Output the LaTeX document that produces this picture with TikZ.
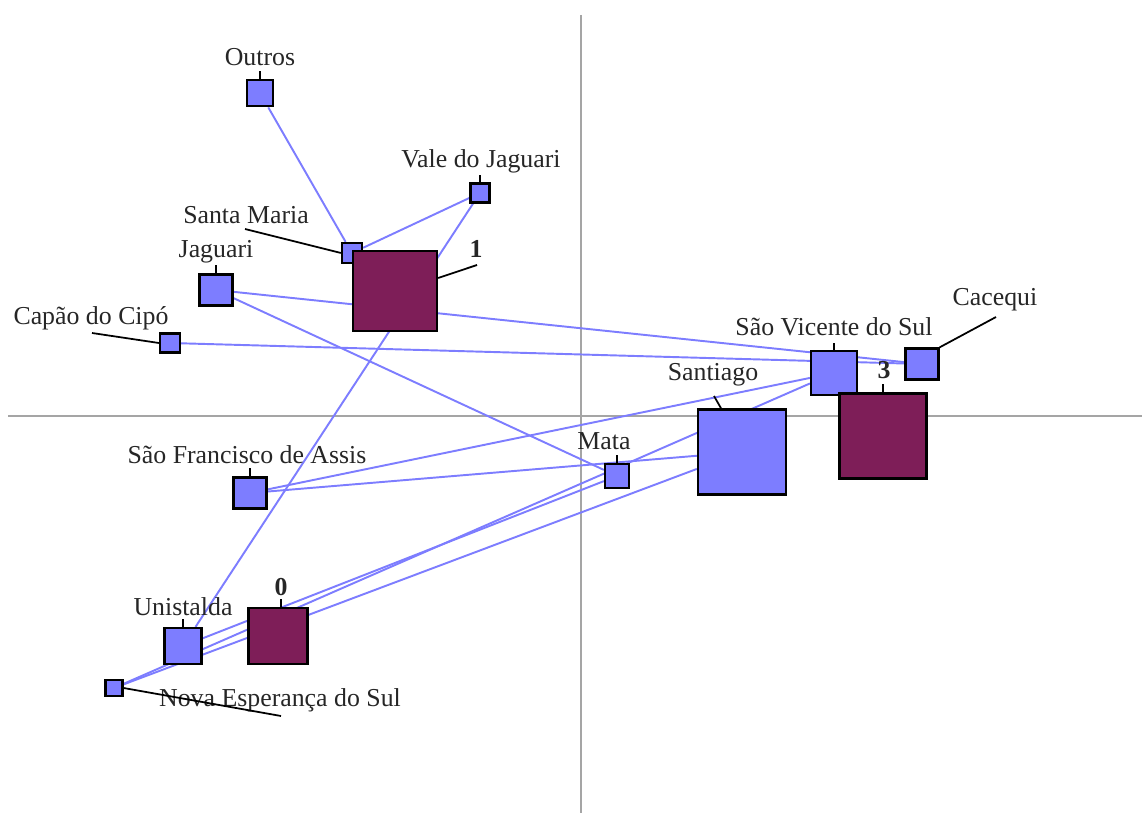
\documentclass[tikz,border=0pt]{standalone}
\usepackage{fontspec}
\setmainfont{Liberation Serif}
\usetikzlibrary{backgrounds}

\definecolor{ptazul}{RGB}{125,125,255}
\definecolor{ptvinho}{RGB}{126,30,88}
\definecolor{eixo}{RGB}{165,165,165}

\begin{document}
\begin{tikzpicture}[x=0.02cm, y=-0.02cm,
    catbox/.style={draw=black, line width=1.3pt, fill=ptazul, inner sep=0pt},
    nivelbox/.style={draw=black, line width=1.3pt, fill=ptvinho, inner sep=0pt},
    rotulo/.style={font=\fontsize{14.7}{16}\selectfont, text=black!85, inner sep=0pt},
    lig/.style={ptazul, line width=1.1pt},
    guia/.style={black, line width=1pt}]

    \useasboundingbox (0,0) rectangle (1142,813);

    % === 類別方塊 ===
    \node[catbox, minimum size=0.53cm] (outros) at (260,93) {};
    \node[catbox, minimum size=0.38cm] (vale) at (480,193) {};
    \node[catbox, minimum size=0.40cm] (santamaria) at (352,253) {};
    \node[nivelbox, minimum width=1.68cm, minimum height=1.60cm] (um) at (395,291) {};
    \node[catbox, minimum width=0.66cm, minimum height=0.62cm] (jaguari) at (216,290) {};
    \node[catbox, minimum width=0.40cm, minimum height=0.38cm] (capao) at (170,343) {};
    \node[catbox, minimum width=0.92cm, minimum height=0.88cm] (svicente) at (834,373) {};
    \node[catbox, minimum width=0.66cm, minimum height=0.62cm] (cacequi) at (922,364) {};
    \node[nivelbox, minimum width=1.74cm, minimum height=1.70cm] (tres) at (883,436) {};
    \node[catbox, minimum width=1.76cm, minimum height=1.70cm] (santiago) at (742,452) {};
    \node[catbox, minimum size=0.48cm] (mata) at (617,476) {};
    \node[catbox, minimum width=0.66cm, minimum height=0.62cm] (sfrancisco) at (250,493) {};
    \node[nivelbox, minimum width=1.18cm, minimum height=1.12cm] (zero) at (278,636) {};
    \node[catbox, minimum width=0.74cm, minimum height=0.72cm] (unistalda) at (183,646) {};
    \node[catbox, minimum width=0.34cm, minimum height=0.32cm] (nova) at (114,688) {};

    % === 標籤 ===
    \node[rotulo] (l-outros) at (260,57) {Outros};
    \node[rotulo] (l-vale) at (481,161) {Vale do Jaguari};
    \node[rotulo] (l-santamaria) at (246,215) {Santa Maria};
    \node[rotulo, font=\fontsize{14.7}{16}\selectfont\bfseries] (l-um) at (476,249) {1};
    \node[rotulo] (l-jaguari) at (216,252) {Jaguari};
    \node[rotulo] (l-capao) at (91,318) {Capão do Cipó};
    \node[rotulo] (l-cacequi) at (995,300) {Cacequi};
    \node[rotulo] (l-svicente) at (834,327) {São Vicente do Sul};
    \node[rotulo, font=\fontsize{14.7}{16}\selectfont\bfseries] (l-tres) at (884,370) {3};
    \node[rotulo] (l-santiago) at (713,375) {Santiago};
    \node[rotulo] (l-mata) at (604,441) {Mata};
    \node[rotulo] (l-sfrancisco) at (247,455) {São Francisco de Assis};
    \node[rotulo, font=\fontsize{14.7}{16}\selectfont\bfseries] (l-zero) at (281,587) {0};
    \node[rotulo] (l-unistalda) at (183,607) {Unistalda};
    \node[rotulo] (l-nova) at (280,700) {Nova Esperança do Sul};

    % 引線
    \draw[guia] (outros.north) -- ++(0,-8);
    \draw[guia] (vale.north) -- ++(0,-7);
    \draw[guia] (jaguari.north) -- ++(0,-8);
    \draw[guia] (svicente.north) -- ++(0,-7);
    \draw[guia] (tres.north) -- ++(0,-8);
    \draw[guia] (mata.north) -- ++(0,-8);
    \draw[guia] (sfrancisco.north) -- ++(0,-8);
    \draw[guia] (zero.north) ++(3,0) -- ++(0,-8);
    \draw[guia] (unistalda.north) -- ++(0,-8);
    \coordinate (c-santamaria) at (245,229);
    \coordinate (c-um) at (477,265);
    \coordinate (c-capao) at (92,333);
    \coordinate (c-cacequi) at (996,317);
    \coordinate (c-santiago) at (714,396);
    \coordinate (c-nova) at (281,716);
    \draw[guia] (c-santamaria) -- (santamaria.west);
    \draw[guia] (um.east) ++(0,-13) -- (c-um);
    \draw[guia] (c-capao) -- (capao.west);
    \draw[guia] (cacequi.north east) -- (c-cacequi);
    \draw[guia] (c-santiago) -- (722,410);
    \draw[guia] (nova.east) -- (c-nova);

    % === 座標軸與連線 ===
    \begin{scope}[on background layer]
        \draw[eixo, line width=0.8pt] (581,15) -- (581,813);
        \draw[eixo, line width=0.8pt] (8,416) -- (1142,416);

        \draw[lig] (outros) -- (santamaria);
        \draw[lig] (santamaria) -- (vale);
        \draw[lig] (vale) -- (unistalda);
        \draw[lig] (jaguari) -- (cacequi);
        \draw[lig] (jaguari) -- (mata);
        \draw[lig] (capao) -- (cacequi);
        \draw[lig] (sfrancisco) -- (svicente);
        \draw[lig] (sfrancisco) -- (santiago);
        \draw[lig] (unistalda) -- (mata);
        \draw[lig] (nova) -- (svicente);
        \draw[lig] (nova) -- (santiago);
    \end{scope}

\end{tikzpicture}
\end{document}
